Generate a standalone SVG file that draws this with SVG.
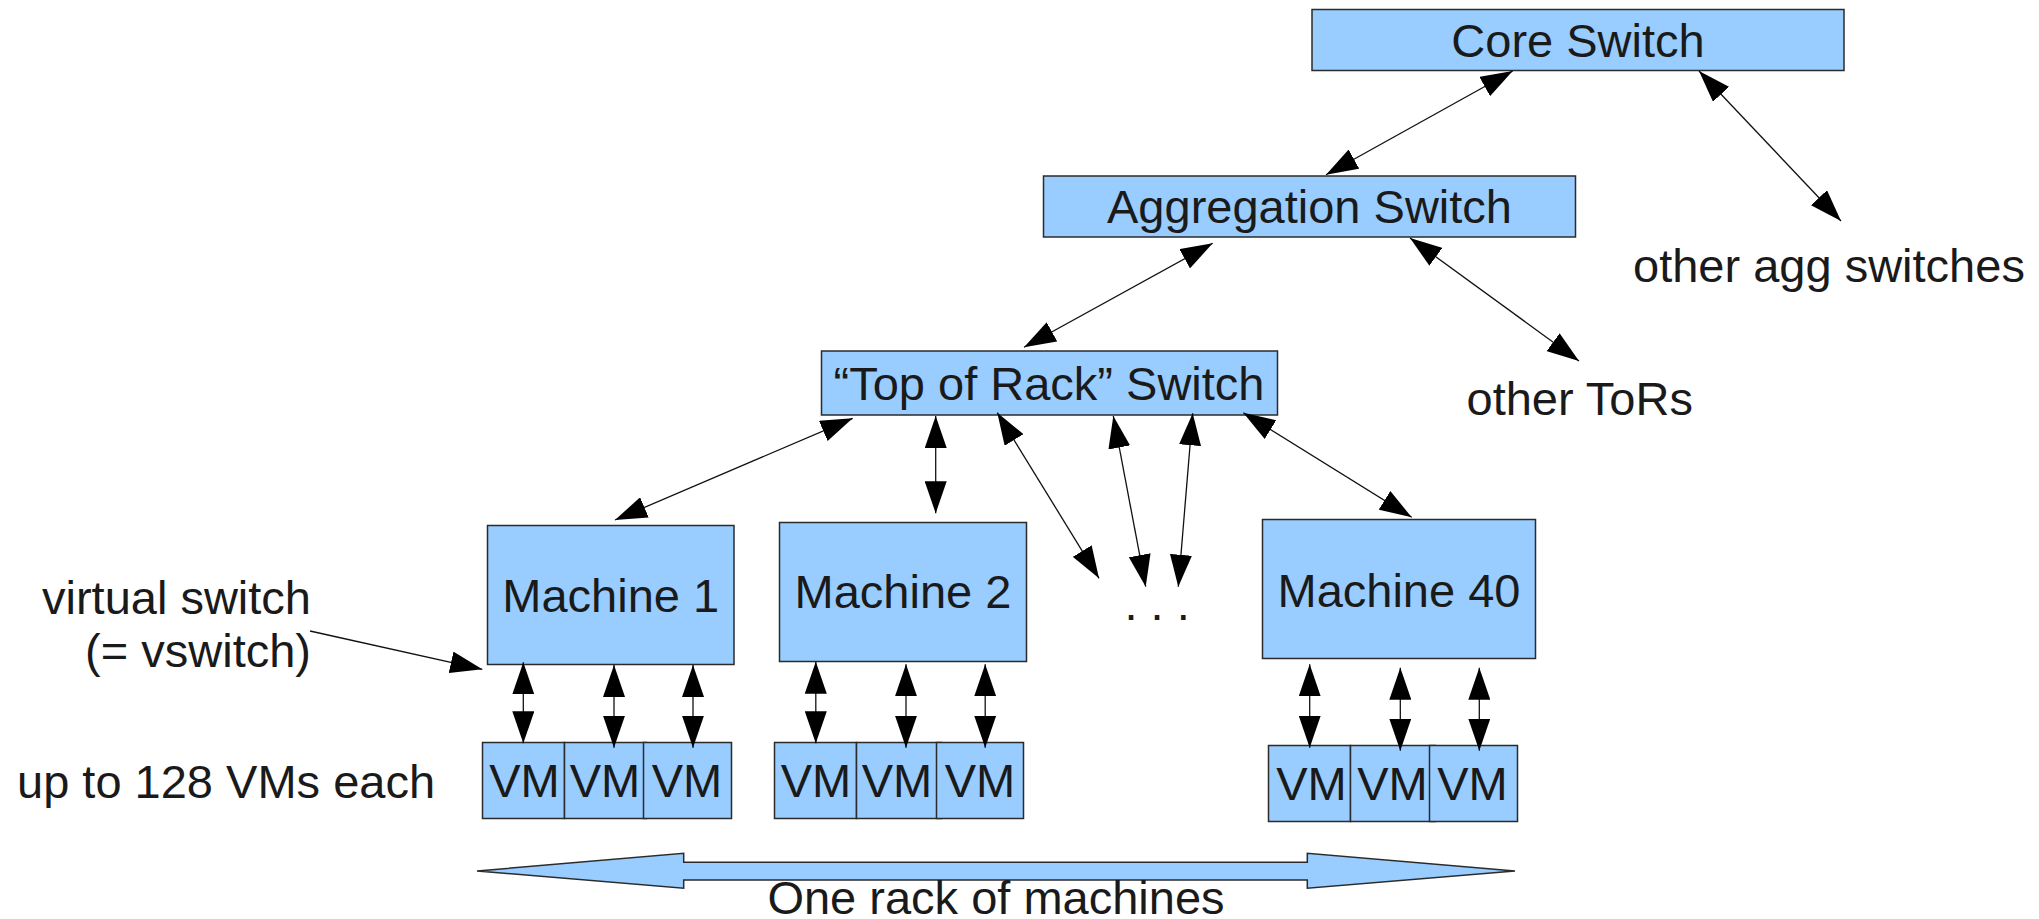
<svg xmlns="http://www.w3.org/2000/svg" width="2039" height="919" viewBox="0 0 2039 919">
  <style>
    .box { fill: #99ccff; stroke: #2b2b2b; stroke-width: 1.5; }
    .lbl { font-family: "Liberation Sans", Arial, sans-serif; font-size: 47px; fill: #1a1a1a; }
    .mid { text-anchor: middle; }
    .end { text-anchor: end; }
    .link { stroke: #111; stroke-width: 1.3; fill: none; }
  </style>
  <defs>
    <marker id="head" viewBox="0 0 32 22" refX="32" refY="11" markerWidth="32" markerHeight="22" markerUnits="userSpaceOnUse" orient="auto-start-reverse">
      <path d="M0,0 L32,11 L0,22 z" fill="#000"/>
    </marker>
  </defs>
  <rect width="2039" height="919" fill="#fff"/>

  <!-- switches -->
  <g id="core-switch">
    <rect class="box" x="1312" y="9.5" width="532" height="61"/>
    <text class="lbl mid" x="1578" y="57">Core Switch</text>
  </g>
  <g id="agg-switch">
    <rect class="box" x="1043.5" y="176" width="532" height="61"/>
    <text class="lbl mid" x="1309.5" y="223">Aggregation Switch</text>
  </g>
  <g id="tor-switch">
    <rect class="box" x="821.5" y="351" width="456" height="64"/>
    <text class="lbl mid" x="1049" y="400">“Top of Rack” Switch</text>
  </g>

  <!-- machines -->
  <g id="machine-1">
    <rect class="box" x="487.5" y="525.5" width="246.5" height="139"/>
    <text class="lbl mid" x="610.7" y="612">Machine 1</text>
  </g>
  <g id="machine-2">
    <rect class="box" x="779.5" y="522.5" width="247" height="139"/>
    <text class="lbl mid" x="903" y="608">Machine 2</text>
  </g>
  <g id="machine-40">
    <rect class="box" x="1262.5" y="519.5" width="273" height="139"/>
    <text class="lbl mid" x="1399" y="606.5">Machine 40</text>
  </g>

  <!-- virtual machines -->
  <g id="vms-1">
    <rect class="box" x="482.5" y="742.5" width="82" height="76"/>
    <rect class="box" x="564.5" y="742.5" width="82" height="76"/>
    <rect class="box" x="643.5" y="742.5" width="88" height="76"/>
    <text class="lbl mid" x="524.5" y="796.5">VM</text>
    <text class="lbl mid" x="605" y="796.5">VM</text>
    <text class="lbl mid" x="687" y="796.5">VM</text>
  </g>
  <g id="vms-2">
    <rect class="box" x="774.5" y="742.5" width="82" height="76"/>
    <rect class="box" x="856.5" y="742.5" width="85" height="76"/>
    <rect class="box" x="936.5" y="742.5" width="87" height="76"/>
    <text class="lbl mid" x="816" y="796.5">VM</text>
    <text class="lbl mid" x="897" y="796.5">VM</text>
    <text class="lbl mid" x="980" y="796.5">VM</text>
  </g>
  <g id="vms-40">
    <rect class="box" x="1268.5" y="745.5" width="82" height="76"/>
    <rect class="box" x="1350.5" y="745.5" width="85" height="76"/>
    <rect class="box" x="1429.5" y="745.5" width="88" height="76"/>
    <text class="lbl mid" x="1311.5" y="800">VM</text>
    <text class="lbl mid" x="1392.5" y="800">VM</text>
    <text class="lbl mid" x="1472.5" y="800">VM</text>
  </g>

  <!-- free labels -->
  <g id="labels">
    <text class="lbl" x="1633" y="282">other agg switches</text>
    <text class="lbl" x="1466.5" y="415">other ToRs</text>
    <text class="lbl" x="1124.5" y="620">. . .</text>
    <text class="lbl end" x="311" y="614">virtual switch</text>
    <text class="lbl end" x="311" y="666.5">(= vswitch)</text>
    <text class="lbl" x="17" y="798">up to 128 VMs each</text>
  </g>

  <!-- rack extent -->
  <g id="rack-span">
    <polygon class="box" stroke-width="1.2" points="477,871 683.7,853.3 683.7,862.3 1307.3,862.3 1307.3,853.3 1515,871 1307.3,888.3 1307.3,880 683.7,880 683.7,888.3"/>
    <text class="lbl mid" x="996" y="914">One rack of machines</text>
  </g>

  <!-- links -->
  <g id="connectors" class="link" marker-start="url(#head)" marker-end="url(#head)">
    <line x1="1512.7" y1="71" x2="1326" y2="174.7"/>
    <line x1="1699" y1="71" x2="1841" y2="221"/>
    <line x1="1212.7" y1="243.3" x2="1024" y2="347.3"/>
    <line x1="1410" y1="238" x2="1579" y2="361"/>
    <line x1="852.7" y1="418.3" x2="615" y2="520"/>
    <line x1="935.7" y1="416" x2="935.7" y2="513.3"/>
    <line x1="997.3" y1="412.7" x2="1099" y2="578.3"/>
    <line x1="1113.3" y1="416" x2="1145.7" y2="586.7"/>
    <line x1="1192.7" y1="413.3" x2="1178.3" y2="586.7"/>
    <line x1="1243.3" y1="412.7" x2="1411.7" y2="517.3"/>
    <line x1="523.3" y1="662.3" x2="523.3" y2="743.3"/>
    <line x1="614" y1="665" x2="614" y2="747.7"/>
    <line x1="693" y1="665" x2="693" y2="747.7"/>
    <line x1="815.8" y1="661.7" x2="815.8" y2="743.3"/>
    <line x1="906" y1="664.3" x2="906" y2="747.7"/>
    <line x1="985.2" y1="664.3" x2="985.2" y2="747.7"/>
    <line x1="1309.7" y1="664.3" x2="1309.7" y2="747.7"/>
    <line x1="1400.3" y1="667.7" x2="1400.3" y2="750.7"/>
    <line x1="1479.3" y1="667.7" x2="1479.3" y2="750.7"/>
    <line x1="310" y1="631" x2="482.3" y2="669.3" marker-start="none"/>
  </g>
</svg>
